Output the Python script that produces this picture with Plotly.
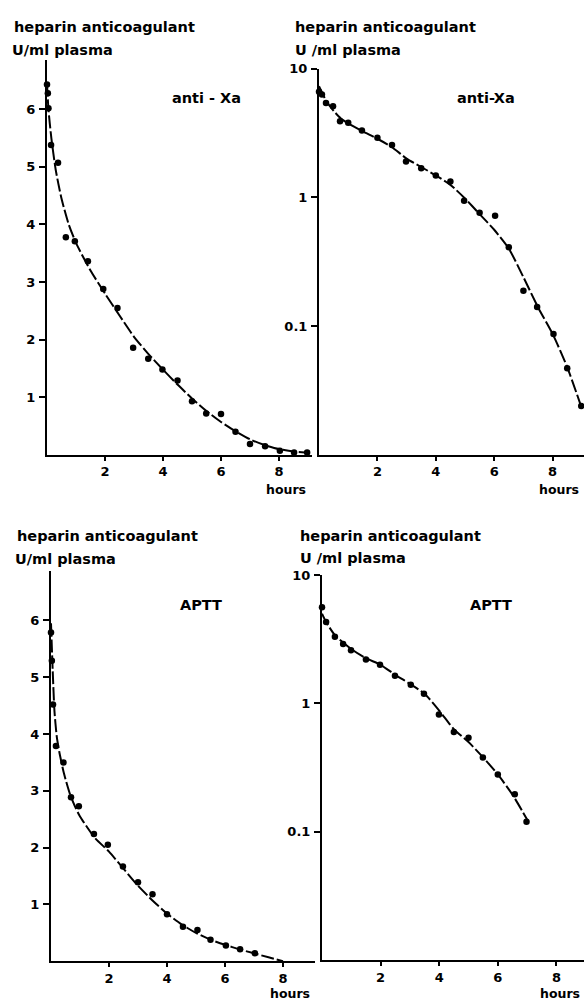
import plotly.graph_objects as go

W, H = 584, 1001

# ---------------- data ----------------
# Panel A: anti-Xa, linear scale
xa_hours = [0.0, 0.03, 0.05, 0.14, 0.38, 0.65, 0.96, 1.41, 1.94, 2.43, 2.97, 3.49, 3.98, 4.5, 5.0, 5.49, 6.0, 6.5, 7.0, 7.52, 8.03, 8.52, 8.97]
xa_units = [6.43, 6.28, 6.02, 5.38, 5.07, 3.78, 3.71, 3.36, 2.88, 2.55, 1.86, 1.67, 1.48, 1.29, 0.93, 0.72, 0.71, 0.40, 0.19, 0.15, 0.07, 0.04, 0.04]
xa_fit_hours = [0.0, 0.05, 0.15, 0.3, 0.5, 0.75, 1.0, 1.5, 2.0, 2.5, 3.0, 3.5, 4.0, 4.5, 5.0, 5.5, 6.0, 6.5, 7.0, 7.5, 8.0, 8.5, 9.0]
xa_fit_units = [6.45, 6.0, 5.5, 4.95, 4.45, 4.0, 3.68, 3.2, 2.8, 2.42, 2.05, 1.75, 1.48, 1.22, 0.98, 0.76, 0.57, 0.41, 0.27, 0.17, 0.10, 0.06, 0.035]

# Panel B: anti-Xa, log scale
xb_hours = [0.0, 0.1, 0.24, 0.48, 0.72, 1.0, 1.47, 2.0, 2.5, 2.98, 3.5, 4.0, 4.5, 4.97, 5.5, 6.03, 6.5, 7.0, 7.47, 8.03, 8.5, 8.98]
xb_units = [6.6, 6.3, 5.4, 5.1, 3.9, 3.8, 3.3, 2.9, 2.55, 1.9, 1.68, 1.48, 1.33, 0.94, 0.76, 0.72, 0.41, 0.188, 0.141, 0.087, 0.047, 0.024]
xb_fit_hours = [0.0, 0.25, 0.5, 0.75, 1.0, 1.5, 2.0, 2.5, 3.0, 3.5, 4.0, 4.5, 5.0, 5.5, 6.0, 6.5, 7.0, 7.5, 8.0, 8.5, 9.0]
xb_fit_units = [7.3, 5.6, 4.7, 4.1, 3.75, 3.25, 2.85, 2.45, 2.0, 1.72, 1.48, 1.25, 0.98, 0.74, 0.56, 0.40, 0.24, 0.14, 0.087, 0.048, 0.023]

# Panel C: APTT, linear scale
ac_hours = [0.0, 0.03, 0.07, 0.17, 0.43, 0.69, 0.96, 1.48, 1.96, 2.48, 3.0, 3.5, 4.0, 4.55, 5.05, 5.5, 6.03, 6.52, 7.03]
ac_units = [5.79, 5.29, 4.52, 3.79, 3.5, 2.89, 2.73, 2.24, 2.05, 1.67, 1.39, 1.18, 0.83, 0.61, 0.55, 0.38, 0.28, 0.21, 0.14]
ac_fit_hours = [0.0, 0.06, 0.12, 0.2, 0.3, 0.45, 0.65, 0.85, 1.0, 1.5, 2.0, 2.5, 3.0, 3.5, 4.0, 4.5, 5.0, 5.5, 6.0, 6.5, 7.0, 7.5, 8.0]
ac_fit_units = [5.95, 5.1, 4.4, 3.95, 3.65, 3.3, 2.95, 2.7, 2.55, 2.18, 1.93, 1.63, 1.33, 1.07, 0.84, 0.65, 0.5, 0.38, 0.29, 0.21, 0.14, 0.07, 0.0]

# Panel D: APTT, log scale
ad_hours = [0.0, 0.14, 0.44, 0.72, 0.99, 1.5, 1.98, 2.49, 3.03, 3.48, 3.99, 4.5, 5.0, 5.49, 6.0, 6.58, 6.98]
ad_units = [5.6, 4.3, 3.3, 2.9, 2.6, 2.2, 2.0, 1.64, 1.4, 1.19, 0.82, 0.6, 0.54, 0.38, 0.28, 0.196, 0.12]
ad_fit_hours = [0.0, 0.14, 0.44, 1.0, 1.5, 2.0, 2.5, 3.0, 3.5, 4.0, 4.5, 5.0, 5.5, 6.0, 6.5, 7.0]
ad_fit_units = [5.0, 4.3, 3.4, 2.65, 2.25, 2.0, 1.67, 1.42, 1.19, 0.88, 0.63, 0.5, 0.38, 0.28, 0.195, 0.125]

x_ticks = [2, 4, 6, 8]
lin_ticks = [1, 2, 3, 4, 5, 6]
log_ticks = [0.1, 1, 10]
log_tick_text = ["0.1", "1", "10"]

header_1 = "heparin anticoagulant"
header_2a = "U/ml plasma"
header_2b = "U /ml plasma"
label_xa = "anti - Xa"
label_xb = "anti-Xa"
label_aptt = "APTT"
x_title = "hours"

FONT = "DejaVu Sans"
INK = "black"


def px(x):
    return x / W


def py(y):
    return 1 - y / H


fig = go.Figure()

panels = [
    ("", xa_hours, xa_units, xa_fit_hours, xa_fit_units),
    ("2", xb_hours, xb_units, xb_fit_hours, xb_fit_units),
    ("3", ac_hours, ac_units, ac_fit_hours, ac_fit_units),
    ("4", ad_hours, ad_units, ad_fit_hours, ad_fit_units),
]

for suf, hx, hy, fx, fy in panels:
    fig.add_trace(go.Scatter(
        x=fx, y=fy, mode="lines", xaxis="x" + suf, yaxis="y" + suf,
        line=dict(color=INK, width=2, dash="13px,3px", shape="spline", smoothing=0.6),
        showlegend=False, hoverinfo="skip", cliponaxis=False))
    fig.add_trace(go.Scatter(
        x=hx, y=hy, mode="markers", xaxis="x" + suf, yaxis="y" + suf,
        marker=dict(color=INK, size=6.5), showlegend=False, cliponaxis=False))

tickfont = dict(family=FONT, size=13, color=INK, weight="bold")


def xaxis(x0, x1, rng, anchor):
    return dict(domain=[px(x0), px(x1)], range=rng, anchor=anchor,
                showgrid=False, zeroline=False, showline=True, linecolor=INK, linewidth=2,
                ticks="outside", ticklen=4, tickwidth=2, tickcolor=INK,
                tickvals=x_ticks, ticktext=[str(v) for v in x_ticks], tickfont=tickfont,
                ticklabelstandoff=0, fixedrange=True)


def yaxis(y_bottom, y_top, rng, anchor, log=False):
    d = dict(domain=[py(y_bottom), py(y_top)], range=rng, anchor=anchor,
             showgrid=False, zeroline=False, showline=True, linecolor=INK, linewidth=2,
             ticks="outside", ticklen=6, tickwidth=2, tickcolor=INK,
             tickfont=tickfont, ticklabelstandoff=1, fixedrange=True)
    if log:
        d.update(type="log", tickvals=log_ticks, ticktext=log_tick_text)
    else:
        d.update(tickvals=lin_ticks, ticktext=[str(v) for v in lin_ticks])
    return d


fig.update_layout(
    width=W, height=H, margin=dict(l=0, r=0, t=0, b=0),
    paper_bgcolor="white", plot_bgcolor="white",
    xaxis=xaxis(47, 312, [0, (312 - 47) / 29.0], "y"),
    yaxis=yaxis(451, 53, [0, (451 - 53) / 58.0], "x"),
    xaxis2=xaxis(319, 584, [0, (584 - 319) / 29.2], "y2"),
    yaxis2=yaxis(451, 62, [-2, 1], "x2", log=True),
    xaxis3=xaxis(51, 315, [0, (315 - 51) / 29.0], "y3"),
    yaxis3=yaxis(961, 568, [0, (961 - 568) / 57.2], "x3"),
    xaxis4=xaxis(322, 584, [0, (584 - 322) / 29.3], "y4"),
    yaxis4=yaxis(960, 572, [-2, 1], "x4", log=True),
)

ann_font = dict(family=FONT, size=14.5, color=INK, weight="bold")
hours_font = dict(family=FONT, size=12.5, color=INK, weight="bold")
texts = [
    (12, 20, header_1, ann_font), (10, 43, header_2a, ann_font),
    (293, 20, header_1, ann_font), (293, 43, header_2b, ann_font),
    (15, 533, header_1, ann_font), (13, 556, header_2a, ann_font),
    (298, 533, header_1, ann_font), (298, 555, header_2b, ann_font),
    (170, 92, label_xa, ann_font), (455, 92, label_xb, ann_font),
    (178, 602, label_aptt, ann_font), (468, 602, label_aptt, ann_font),
    (264, 486, x_title, hours_font), (537, 486, x_title, hours_font),
    (268, 993, x_title, hours_font), (538, 993, x_title, hours_font),
]
for x, y, t, f in texts:
    fig.add_annotation(x=px(x), y=py(y), xref="paper", yref="paper", text=t,
                       showarrow=False, xanchor="left", yanchor="middle", font=f)

fig.write_html("out.html", config={"displayModeBar": False},
               post_script="document.body.style.margin='0';document.body.style.overflow='hidden';")
